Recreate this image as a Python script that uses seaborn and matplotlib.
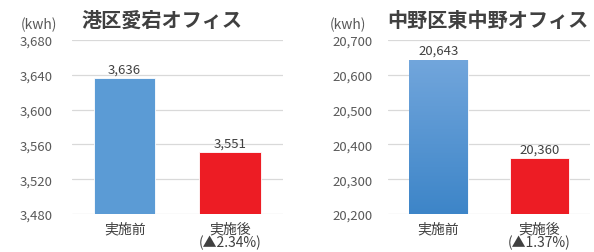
import numpy as np
import pandas as pd
import matplotlib
matplotlib.use('Agg')
import matplotlib.pyplot as plt
import seaborn as sns

sns.set_style('white')
plt.rcParams['font.family'] = ['Noto Sans CJK JP', 'DejaVu Sans']

categories = ['実施前', '実施後']
atago_values = [3636, 3551]
atago_change = '(▲2.34%)'
nakano_values = [20643, 20360]
nakano_change = '(▲1.37%)'
atago_ticks = [3480, 3520, 3560, 3600, 3640, 3680]
nakano_ticks = [20200, 20300, 20400, 20500, 20600, 20700]

BLUE = '#5B9BD5'
RED = '#ED1C24'
TEXT = '#404040'
TICK = '#595959'


def draw_panel(ax, values, change, ticks, ypad, gradient=False):
    df = pd.DataFrame({'category': categories, 'value': values})
    sns.barplot(data=df, x='category', y='value', hue='category',
                palette=[BLUE, RED], width=0.58, legend=False, ax=ax,
                saturation=1, edgecolor='white', linewidth=0.6)
    ax.set_ylim(ticks[0], ticks[-1])
    ax.set_xlim(-0.5, 1.5)
    ax.set_yticks(ticks)
    ax.set_yticklabels([f'{t:,}' for t in ticks], color=TICK, fontsize=9.5)
    ax.set_xticks([0, 1])
    ax.set_xticklabels([categories[0], categories[1] + '\n' + change],
                       color=TEXT, fontsize=10, linespacing=0.95)
    ax.tick_params(axis='y', length=0, pad=ypad)
    ax.tick_params(axis='x', length=0, pad=5)
    ax.yaxis.grid(True, color='#d9d9d9', linewidth=0.9)
    ax.set_axisbelow(True)
    for s in ax.spines.values():
        s.set_visible(False)
    ax.set_xlabel('')
    ax.set_ylabel('')

    if gradient:
        p = ax.patches[0]
        x0, y0 = p.get_x(), p.get_y()
        w, h = p.get_width(), p.get_height()
        grad = np.linspace(1, 0, 256).reshape(-1, 1)
        cmap = matplotlib.colors.LinearSegmentedColormap.from_list(
            'g', ['#3d85c8', '#72a6dc'])
        im = ax.imshow(grad, cmap=cmap, aspect='auto',
                       extent=[x0, x0 + w, ticks[0], y0 + h], zorder=p.get_zorder() + 0.1)
        im.set_clip_path(p)
        ax.set_xlim(-0.5, 1.5)
        ax.set_ylim(ticks[0], ticks[-1])

    for i, v in enumerate(values):
        ax.annotate(f'{v:,}', (i, v), xytext=(0, 2), textcoords='offset points',
                    ha='center', va='bottom', fontsize=9.5, color=TEXT)


fig = plt.figure(figsize=(5.94, 2.53), dpi=100)
ax1 = fig.add_axes([0.121, 0.150, 0.355, 0.688])
ax2 = fig.add_axes([0.653, 0.150, 0.340, 0.688])

draw_panel(ax1, atago_values, atago_change, atago_ticks, ypad=14)
draw_panel(ax2, nakano_values, nakano_change, nakano_ticks, ypad=11, gradient=True)

fig.text(0.272, 0.92, '港区愛宕オフィス', ha='center', va='center',
         fontsize=14.5, fontweight='bold', color=TEXT)
fig.text(0.822, 0.92, '中野区東中野オフィス', ha='center', va='center',
         fontsize=14.5, fontweight='bold', color=TEXT)
fig.text(0.066, 0.90, '(kwh)', ha='center', va='center', fontsize=10, color=TICK)
fig.text(0.586, 0.90, '(kwh)', ha='center', va='center', fontsize=10, color=TICK)

fig.savefig('out.png', dpi=100)
plt.close()
